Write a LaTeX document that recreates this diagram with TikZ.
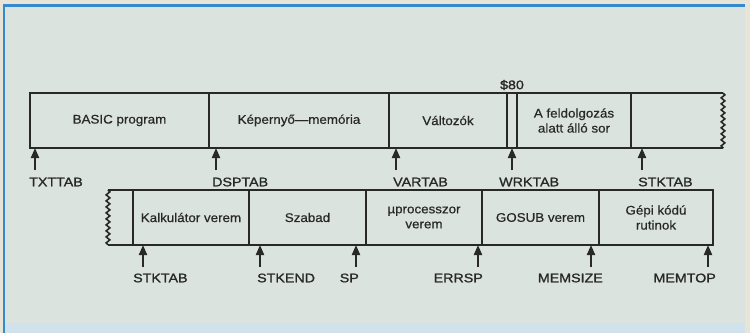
\documentclass[tikz,border=0pt]{standalone}
\usepackage{fontspec}
\setmainfont{Liberation Sans}[FakeStretch=1.07,FakeBold=0.6]
\newfontfamily\lblfont{Liberation Sans}[FakeStretch=1.14,FakeBold=1.2]
\usetikzlibrary{arrows.meta,decorations.pathmorphing}
\definecolor{bg}{RGB}{219,227,223}
\definecolor{frameblue}{RGB}{52,138,205}
\definecolor{ink}{RGB}{40,40,40}
\definecolor{beige}{RGB}{232,228,215}
\definecolor{bandc}{RGB}{210,226,236}
\tikzset{
  mem/.style={draw=ink, line width=1.6pt, inner sep=0pt, outer sep=0pt,
    minimum height=55pt, align=center, text=ink, font=\fontsize{12.5}{15}\selectfont},
  ptr/.style={draw=ink, line width=2pt, -{Triangle[length=10pt,width=8pt]}},
  lbl/.style={text=ink, inner sep=0pt, font=\lblfont\fontsize{12.5}{15}\selectfont},
  wavy/.style={decorate, decoration={snake, segment length=6pt, amplitude=1.8pt}},
  edge/.style={draw=ink, line width=1.6pt}
}
\begin{document}
\begin{tikzpicture}[x=1pt,y=-1pt]
\useasboundingbox (0,0) rectangle (750,333);
\fill[beige] (0,0) rectangle (750,333);
\fill[bg] (3,5) rectangle (745,333);
\fill[bandc] (3,323) rectangle (745,333);
\draw[frameblue, line width=2.5pt] (4,333) -- (4,5.5) -- (745,5.5);

% top row
\node[mem, minimum width=179pt] (basic) at (119.5,120.5) {BASIC program};
\node[mem, minimum width=180pt] (kep) at (299,120.5) {Képernyő—memória};
\node[mem, minimum width=118pt] (valt) at (448,120.5) {Változók};
\node[mem, minimum width=10pt] (gap) at (512,120.5) {};
\node[mem, minimum width=114pt] (feld) at (574,120.5) {A feldolgozás\\alatt álló sor};
\coordinate (tr1) at (631,93);
\coordinate (tr2) at (723,93);
\coordinate (tr3) at (723,148);
\coordinate (tr4) at (631,148);
\draw[edge] (tr1) -- (tr2);
\draw[edge] (tr4) -- (tr3);
\draw[edge, wavy] (tr2) -- (tr3);
\node[lbl] (d80) at (512,85) {\$80};

% bottom row
\node[mem, minimum width=116pt] (kalk) at (191,217.5) {Kalkulátor verem};
\node[mem, minimum width=117pt] (szab) at (307.5,217.5) {Szabad};
\node[mem, minimum width=116pt] (upro) at (424,217.5) {µprocesszor\\verem};
\node[mem, minimum width=117pt] (gosub) at (540.5,217.5) {GOSUB verem};
\node[mem, minimum width=114pt] (gepi) at (656,217.5) {Gépi kódú\\rutinok};
\coordinate (bl1) at (133,190);
\coordinate (bl2) at (108,190);
\coordinate (bl3) at (108,245);
\coordinate (bl4) at (133,245);
\draw[edge] (bl1) -- (bl2);
\draw[edge] (bl4) -- (bl3);
\draw[edge, wavy] (bl2) -- (bl3);

% top pointers
\node[lbl, anchor=west] (txttab) at (29,182) {TXTTAB};
\node[lbl, anchor=west] (dsptab) at (212,182) {DSPTAB};
\node[lbl, anchor=west] (vartab) at (393,182) {VARTAB};
\node[lbl, anchor=west] (wrktab) at (499,182) {WRKTAB};
\node[lbl, anchor=west] (stktaba) at (638,182) {STKTAB};
\coordinate (ta1) at (35,170);  \coordinate (ha1) at (35,148);
\coordinate (ta2) at (216,170); \coordinate (ha2) at (216,148);
\coordinate (ta3) at (396,170); \coordinate (ha3) at (396,148);
\coordinate (ta4) at (512,170); \coordinate (ha4) at (512,148);
\coordinate (ta5) at (642,170); \coordinate (ha5) at (642,148);
\foreach \i in {1,...,5} {\draw[ptr] (ta\i) -- (ha\i);}

% bottom pointers
\node[lbl, anchor=west] (stktabb) at (133,278) {STKTAB};
\node[lbl, anchor=west] (stkend) at (257,278) {STKEND};
\node[lbl, anchor=east] (sp) at (359,278) {SP};
\node[lbl, anchor=east] (errsp) at (483,278) {ERRSP};
\node[lbl, anchor=east] (memsize) at (603,278) {MEMSIZE};
\node[lbl, anchor=east] (memtop) at (716,278) {MEMTOP};
\coordinate (tb1) at (143,267); \coordinate (hb1) at (143,245);
\coordinate (tb2) at (260,267); \coordinate (hb2) at (260,245);
\coordinate (tb3) at (356,267); \coordinate (hb3) at (356,245);
\coordinate (tb4) at (478,267); \coordinate (hb4) at (478,245);
\coordinate (tb5) at (591,267); \coordinate (hb5) at (591,245);
\coordinate (tb6) at (708,267); \coordinate (hb6) at (708,245);
\foreach \i in {1,...,6} {\draw[ptr] (tb\i) -- (hb\i);}
\end{tikzpicture}
\end{document}
